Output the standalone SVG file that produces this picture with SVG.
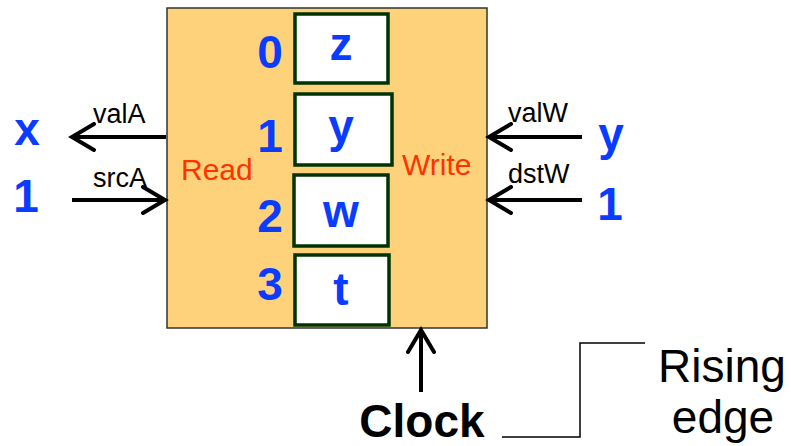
<svg xmlns="http://www.w3.org/2000/svg" width="791" height="446" viewBox="0 0 791 446">
<style>
.blue{font-family:"Liberation Sans",Arial,sans-serif;font-weight:bold;font-size:46px;fill:#0a3cff;text-anchor:middle}
.red{font-family:"Liberation Sans",Arial,sans-serif;font-size:30px;fill:#ff3300}
.lbl{font-family:"Liberation Sans",Arial,sans-serif;font-size:27px;fill:#000}
.big{font-family:"Liberation Sans",Arial,sans-serif;font-size:46px;fill:#000;text-anchor:middle}
.reg{fill:#fff;stroke:#003300;stroke-width:3.5}
.wire{stroke:#000;stroke-width:4;fill:none}
</style>
<defs>
<marker id="chev" markerUnits="userSpaceOnUse" markerWidth="30" markerHeight="30" refX="26" refY="15" viewBox="0 0 30 30" orient="auto">
<path d="M 4 2 L 26 15 L 4 28" fill="none" stroke="#000" stroke-width="4" stroke-linecap="round" stroke-linejoin="miter"/>
</marker>
</defs>
<rect width="791" height="446" fill="#fff"/>
<g id="regfile">
<rect x="167" y="8" width="320" height="320" fill="#fdd27a" stroke="#333" stroke-width="1.5"/>
<text class="red" x="181" y="180">Read</text>
<text class="red" x="402" y="175">Write</text>
</g>
<g id="reg0">
<rect class="reg" x="295" y="14" width="93" height="69"/>
<text class="blue" x="270" y="68">0</text>
<text class="blue" x="341" y="60">z</text>
</g>
<g id="reg1">
<rect class="reg" x="295" y="94" width="97" height="71"/>
<text class="blue" x="270" y="152">1</text>
<text class="blue" x="341" y="142">y</text>
</g>
<g id="reg2">
<rect class="reg" x="294" y="175" width="94" height="71"/>
<text class="blue" x="270" y="232">2</text>
<text class="blue" x="341" y="227">w</text>
</g>
<g id="reg3">
<rect class="reg" x="295" y="255" width="94" height="70"/>
<text class="blue" x="270" y="300">3</text>
<text class="blue" x="341" y="305">t</text>
</g>
<g id="ports">
<text class="blue" x="27" y="145">x</text>
<text class="blue" x="26" y="212">1</text>
<text class="blue" x="611" y="150">y</text>
<text class="blue" x="610" y="220">1</text>
<text class="lbl" x="93" y="123">valA</text>
<text class="lbl" x="93" y="187">srcA</text>
<text class="lbl" x="508" y="122">valW</text>
<text class="lbl" x="508" y="183">dstW</text>
<text class="big" x="422" y="437" font-weight="bold">Clock</text>
<text class="big" x="722" y="382">Rising</text>
<text class="big" x="723" y="433">edge</text>
</g>
<g id="connectors">
<line class="wire" x1="166" y1="137" x2="72" y2="137" marker-end="url(#chev)"/>
<line class="wire" x1="72" y1="200" x2="165" y2="200" marker-end="url(#chev)"/>
<line class="wire" x1="582" y1="137" x2="489" y2="137" marker-end="url(#chev)"/>
<line class="wire" x1="582" y1="200" x2="489" y2="200" marker-end="url(#chev)"/>
<line class="wire" x1="421" y1="392" x2="421" y2="330" marker-end="url(#chev)"/>
<polyline points="502,437 580,437 580,343 645,343" fill="none" stroke="#000" stroke-width="1.5"/>
</g>
</svg>
